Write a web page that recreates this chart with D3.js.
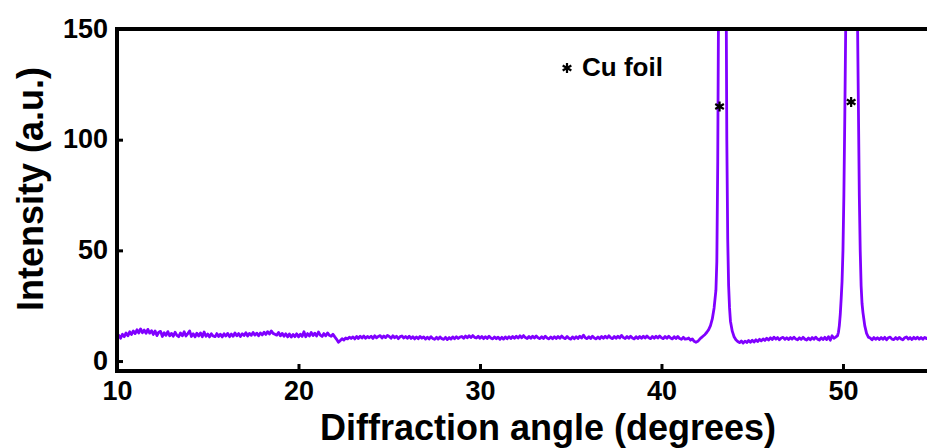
<!DOCTYPE html>
<html>
<head>
<meta charset="utf-8">
<script src="https://cdn.jsdelivr.net/npm/d3@7"></script>
<style>
	body { margin: 0; background: #fff; }
	svg { display: block; font-family: "Liberation Sans", Arial, sans-serif; font-weight: bold; }
</style>
</head>
<body>
<div id="chart"></div>
<script>
// step scan, 0.1 degree per point
const scanStep = 0.1;

// 10.0 - 42.0 deg
const scanA_start = 10.0;
const scanA = [
	10.6,11.6,10.3,12.1,11.0,12.7,11.4,13.2,12.0,13.6,
	12.4,14.1,12.7,14.5,12.8,14.0,12.5,14.3,12.6,13.7,
	12.0,13.6,11.5,13.0,13.4,11.1,12.8,11.6,13.3,11.4,
	12.5,11.2,13.0,11.6,11.0,12.7,11.4,13.2,11.3,12.4,
	13.6,11.1,12.3,10.9,12.6,11.3,12.7,11.0,13.1,11.2,
	12.2,10.9,12.3,11.3,11.0,12.4,11.1,12.1,10.9,12.3,
	11.3,12.5,11.0,12.2,11.2,12.7,11.4,12.4,11.1,12.3,
	11.5,12.8,11.3,12.5,11.6,12.9,11.7,12.6,11.4,12.7,
	11.8,13.0,12.0,13.3,12.2,13.6,12.5,12.1,11.7,12.9,
	11.4,12.5,11.2,12.3,10.9,12.2,10.8,12.0,11.0,12.3,
	10.9,12.1,11.1,13.2,11.0,12.4,11.3,12.9,11.5,12.6,
	11.3,13.1,11.7,11.1,12.4,11.4,12.7,11.6,11.2,12.1,
	10.9,9.8,8.5,9.2,10.1,9.5,10.4,10.0,10.8,10.2,
	10.9,10.0,11.1,10.2,11.2,10.4,11.3,10.3,11.1,10.5,
	11.2,10.2,11.4,10.5,11.1,11.5,10.4,11.3,10.6,11.6,
	11.1,10.3,11.4,10.5,11.2,10.1,11.0,11.3,10.4,11.1,
	10.3,11.2,10.2,11.0,10.0,10.9,10.1,11.1,10.3,10.9,
	9.9,10.8,10.0,11.0,10.2,9.8,10.7,9.9,10.9,10.1,
	9.8,10.7,9.7,10.6,9.9,10.9,10.1,11.0,10.2,10.8,
	11.1,10.3,11.3,10.5,11.4,10.6,11.5,10.7,10.4,11.2,
	10.3,11.1,10.1,11.0,10.2,11.2,10.4,10.0,10.9,10.1,
	10.8,9.8,10.7,9.9,10.9,10.1,11.0,10.2,11.1,10.3,
	11.2,10.4,11.4,10.5,11.5,10.6,10.2,11.1,10.3,11.2,
	10.4,11.3,10.5,10.1,11.0,10.2,11.2,10.4,10.0,10.9,
	10.1,11.0,10.2,11.1,10.3,11.3,10.5,10.1,11.1,10.3,
	9.9,10.9,10.1,11.0,10.2,11.2,10.4,11.7,10.5,10.1,
	11.0,10.2,11.2,10.4,10.0,10.9,10.1,11.1,10.3,11.2,
	10.4,11.4,10.5,10.1,11.1,10.3,11.2,10.4,11.6,10.6,
	10.2,11.1,10.3,11.2,10.4,10.0,11.0,10.2,11.1,10.3,
	11.2,10.4,11.3,10.5,10.1,11.1,10.3,11.2,10.4,11.3,
	10.5,10.1,11.1,10.3,11.2,10.4,10.0,11.0,10.2,11.1,
	10.2,9.8,10.7,9.9,10.0,10.4,9.4,10.0,8.9,8.5,
	8.9
];

// Cu (111) reflection
const peak111 = [
	[42.1,9.8],[42.2,10.6],[42.3,11.3],[42.4,12.0],[42.5,13.0],[42.6,14.2],
	[42.7,16.0],[42.8,19],[42.9,24],[43.0,32],[43.05,45],[43.1,90],
	[43.15,170],[43.2,320],[43.3,560],[43.35,600],[43.4,560],[43.5,320],
	[43.55,190],[43.6,100],[43.65,55],[43.7,34],[43.75,24],[43.8,18],
	[43.9,13.5],[44.0,11],[44.1,9.6],[44.2,8.8]
];

// 44.3 - 49.5 deg
const scanB_start = 44.3;
const scanB = [
	8.3,9.1,8.1,9.0,8.4,9.3,8.5,
	9.4,8.6,9.6,8.8,9.8,9.1,10.0,9.3,10.3,9.5,
	10.5,9.7,10.8,9.9,10.6,9.6,10.4,10.7,9.8,10.5,
	9.7,10.6,9.9,10.8,10.0,9.6,10.5,9.8,10.7,9.9,
	9.5,10.4,9.6,10.6,9.8,10.8,9.9,9.5,10.5,9.7,
	10.7,9.7,11.0,9.4,11.4,10.3
];

// Cu (200) reflection
const peak200 = [
	[49.6,10.8],[49.7,11.5],[49.75,13],[49.8,16],[49.85,21],[49.9,28],
	[49.95,36],[50.0,50],[50.05,75],[50.1,110],[50.15,150],[50.2,200],
	[50.3,290],[50.4,340],[50.47,350],[50.55,330],[50.65,260],[50.75,190],
	[50.8,155],[50.85,115],[50.9,75],[50.95,50],[51.0,34],[51.05,26],
	[51.1,22],[51.15,19],[51.2,16],[51.3,12.5],[51.4,10.8]
];

// 51.5 - 54.8 deg
const scanC_start = 51.5;
const scanC = [
	10.4,9.6,10.6,9.8,10.5,
	9.7,10.6,9.8,10.7,9.6,10.5,10.8,9.9,9.7,10.6,
	9.8,10.7,10.0,9.6,10.5,10.9,9.9,10.6,9.7,10.7,
	10.0,10.8,9.9,10.6,9.8,10.7,10.1,10.8,10.0
];

// peak markers + legend
const markers = [[43.2, 115], [50.45, 117]];
const legendText = 'Cu foil';

const xTicks = [10, 20, 30, 40, 50];
const yTicks = [0, 50, 100, 150];
const xLabel = 'Diffraction angle (degrees)';
const yLabel = 'Intensity (a.u.)';

const width = 927, height = 448;
const margin = { top: 29, right: 0, bottom: 77, left: 117 };
const lineColour = '#8000ff';
const tickFont = '27px';

const scanPoints = (start, values) => values.map((v, i) => [start + i * scanStep, v]);

const series = [
	...scanPoints(scanA_start, scanA),
	...peak111,
	...scanPoints(scanB_start, scanB),
	...peak200,
	...scanPoints(scanC_start, scanC)
];

const x = d3.scaleLinear()
	.domain([10, 54.63])
	.range([margin.left, width - margin.right]);

const y = d3.scaleLinear()
	.domain([-4.5, 150])
	.range([height - margin.bottom, margin.top]);

const svg = d3.select('#chart')
	.append('svg')
	.attr('width', width)
	.attr('height', height);

svg.append('clipPath')
	.attr('id', 'plot-clip')
	.append('rect')
	.attr('x', margin.left)
	.attr('y', margin.top)
	.attr('width', width - margin.left)
	.attr('height', height - margin.bottom - margin.top);

// the pattern
svg.append('path')
	.datum(series)
	.attr('clip-path', 'url(#plot-clip)')
	.attr('fill', 'none')
	.attr('stroke', lineColour)
	.attr('stroke-width', 2.8)
	.attr('stroke-linejoin', 'round')
	.attr('d', d3.line()
		.x(d => x(d[0]))
		.y(d => y(d[1]))
	);

// axes, inward ticks
svg.append('g')
	.attr('transform', `translate(0, ${y(-4.5)})`)
	.call(d3.axisBottom(x)
		.tickValues(xTicks)
		.tickSize(-7)
		.tickPadding(9.5)
		.tickFormat(d3.format('d'))
	)
	.call(g => g.select('.domain').remove())
	.call(g => g.selectAll('.tick line').attr('stroke', '#000').attr('stroke-width', 3))
	.call(g => g.selectAll('.tick text')
		.attr('fill', '#000')
		.style('font-size', tickFont)
		.style('font-weight', 'bold')
		.style('font-family', '"Liberation Sans", Arial, sans-serif'));

svg.append('g')
	.attr('transform', `translate(${margin.left}, 0)`)
	.call(d3.axisLeft(y)
		.tickValues(yTicks)
		.tickSize(-6)
		.tickPadding(9)
		.tickFormat(d3.format('d'))
	)
	.call(g => g.select('.domain').remove())
	.call(g => g.selectAll('.tick line').attr('stroke', '#000').attr('stroke-width', 3))
	.call(g => g.selectAll('.tick text')
		.attr('fill', '#000')
		.attr('dy', '0.3em')
		.style('font-size', tickFont)
		.style('font-weight', 'bold')
		.style('font-family', '"Liberation Sans", Arial, sans-serif'));

// frame: left, bottom and top (right side runs off the page)
const frame = d3.path();
frame.moveTo(width + 10, y(150));
frame.lineTo(margin.left, y(150));
frame.lineTo(margin.left, y(-4.5));
frame.lineTo(width + 10, y(-4.5));

svg.append('path')
	.attr('d', frame.toString())
	.attr('fill', 'none')
	.attr('stroke', '#000')
	.attr('stroke-width', 4)
	.attr('stroke-linecap', 'square');

// asterisk marker
const star = (cx, cy, r) => {
	const p = d3.path();
	[90, 30, -30].forEach(a => {
		const t = a * Math.PI / 180;
		p.moveTo(cx - r * Math.cos(t), cy - r * Math.sin(t));
		p.lineTo(cx + r * Math.cos(t), cy + r * Math.sin(t));
	});
	return p.toString();
};

svg.selectAll('.marker')
	.data(markers)
	.join('path')
	.attr('class', 'marker')
	.attr('d', d => star(x(d[0]), y(d[1]), 5))
	.attr('stroke', '#000')
	.attr('stroke-width', 2.2)
	.attr('fill', 'none');

// legend
svg.append('path')
	.attr('d', star(567, 68, 5))
	.attr('stroke', '#000')
	.attr('stroke-width', 2.2);

svg.append('text')
	.attr('x', 582)
	.attr('y', 76)
	.style('font-size', '26px')
	.text(legendText);

// axis titles
svg.append('text')
	.attr('x', 548)
	.attr('y', 440)
	.attr('text-anchor', 'middle')
	.style('font-size', '36px')
	.text(xLabel);

svg.append('text')
	.attr('transform', 'translate(43, 189) rotate(-90)')
	.attr('text-anchor', 'middle')
	.style('font-size', '36px')
	.text(yLabel);
</script>
</body>
</html>
